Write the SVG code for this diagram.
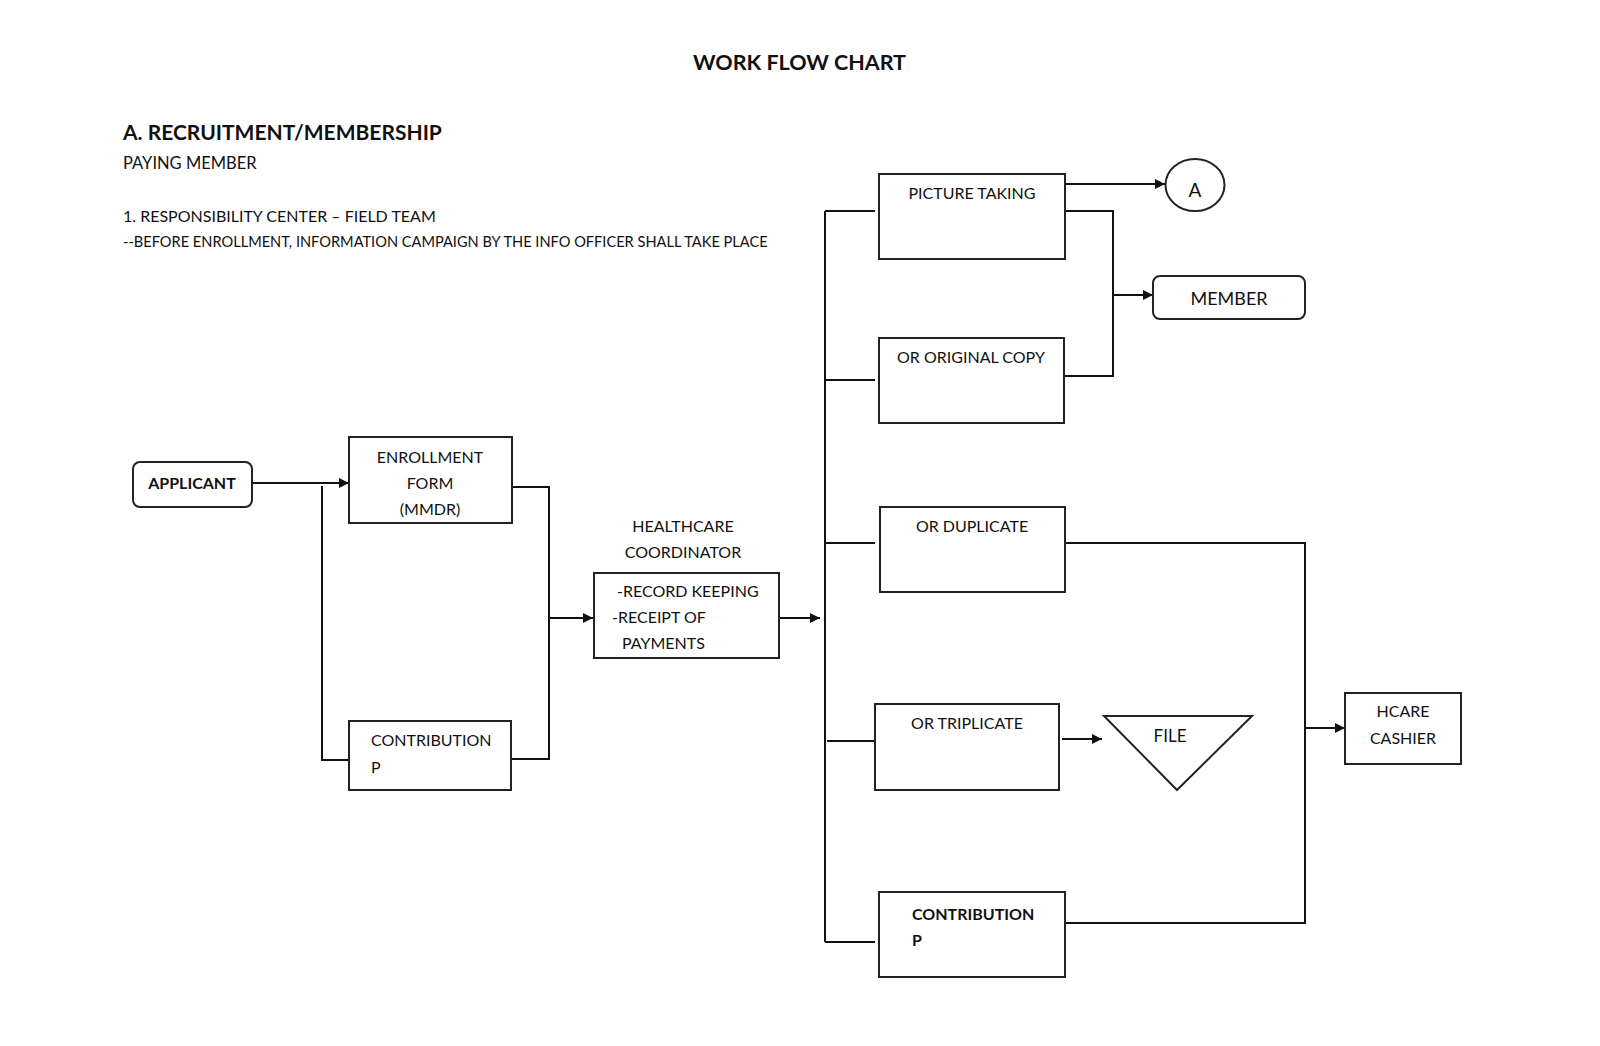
<svg xmlns="http://www.w3.org/2000/svg" width="1600" height="1046" viewBox="0 0 1600 1046">
<style>
text{font-family:Lato,"Open Sans","Liberation Sans",sans-serif;fill:#111;font-size:16px}
.b{font-weight:bold}
.c{text-anchor:middle}
.t1{font-size:21.5px}
.t2{font-size:21px}
.t3{font-size:16.5px}
.t4{font-size:14.6px}
.t5{font-size:18px}
.t6{font-size:19px}
.t7{font-size:17px}
.box{fill:#fff;stroke:#222;stroke-width:2}
.ln{fill:none;stroke:#111;stroke-width:2}
.ar{fill:none;stroke:#111;stroke-width:2;marker-end:url(#ah)}
</style>
<defs>
<marker id="ah" viewBox="0 0 10 10" refX="10" refY="5" markerWidth="10" markerHeight="10" markerUnits="userSpaceOnUse" orient="auto">
<path d="M0,0 L10,5 L0,10 z" fill="#111"/>
</marker>
</defs>
<rect width="1600" height="1046" fill="#fff"/>
<g id="headings">
<text class="b t1" x="693" y="70">WORK FLOW CHART</text>
<text class="b t2" x="123" y="140">A. RECRUITMENT/MEMBERSHIP</text>
<text class="t3" x="123" y="169">PAYING MEMBER</text>
<text x="123" y="222">1. RESPONSIBILITY CENTER – FIELD TEAM</text>
<text class="t4" x="123" y="247">--BEFORE ENROLLMENT, INFORMATION CAMPAIGN BY THE INFO OFFICER SHALL TAKE PLACE</text>
</g>
<g id="connectors">
<line class="ar" x1="252" y1="483" x2="349" y2="483"/>
<polyline class="ln" points="322,486 322,760 349,760"/>
<polyline class="ln" points="512,487 549,487 549,759 511,759"/>
<line class="ar" x1="549" y1="618" x2="593" y2="618"/>
<line class="ar" x1="779" y1="618" x2="820" y2="618"/>
<line class="ln" x1="825" y1="211" x2="825" y2="942"/>
<line class="ln" x1="825" y1="211" x2="875" y2="211"/>
<line class="ln" x1="825" y1="380" x2="875" y2="380"/>
<line class="ln" x1="825" y1="543" x2="875" y2="543"/>
<line class="ln" x1="827" y1="741" x2="877" y2="741"/>
<line class="ln" x1="825" y1="942" x2="875" y2="942"/>
<line class="ar" x1="1065" y1="184" x2="1165" y2="184"/>
<polyline class="ln" points="1065,211 1113,211 1113,376 1064,376"/>
<line class="ar" x1="1113" y1="295" x2="1153" y2="295"/>
<polyline class="ln" points="1065,543 1305,543 1305,923 1065,923"/>
<line class="ar" x1="1305" y1="728" x2="1345" y2="728"/>
<line class="ar" x1="1062" y1="739" x2="1102" y2="739"/>
</g>
<g id="applicant">
<rect class="box" x="133" y="462" width="119" height="45" rx="7"/>
<text class="b c" x="192" y="489">APPLICANT</text>
</g>
<g id="enrollment">
<rect class="box" x="349" y="437" width="163" height="86"/>
<text class="c" x="430" y="463">ENROLLMENT</text>
<text class="c" x="430" y="489">FORM</text>
<text class="c" x="430" y="515">(MMDR)</text>
</g>
<g id="contribution-left">
<rect class="box" x="349" y="721" width="162" height="69"/>
<text x="371" y="746">CONTRIBUTION</text>
<text x="371" y="773">P</text>
</g>
<g id="healthcare">
<text class="c" x="683" y="532">HEALTHCARE</text>
<text class="c" x="683" y="558">COORDINATOR</text>
<rect class="box" x="594" y="573" width="185" height="85"/>
<text x="617" y="597">-RECORD KEEPING</text>
<text x="612" y="623">-RECEIPT OF</text>
<text x="622" y="649">PAYMENTS</text>
</g>
<g id="picture">
<rect class="box" x="879" y="174" width="186" height="85"/>
<text class="c" x="972" y="199">PICTURE TAKING</text>
</g>
<g id="connector-a">
<ellipse class="box" cx="1195" cy="185" rx="29.5" ry="26"/>
<text class="c t6" x="1195" y="197">A</text>
</g>
<g id="member">
<rect class="box" x="1153" y="276" width="152" height="43" rx="7"/>
<text class="c t5" x="1229" y="305">MEMBER</text>
</g>
<g id="original">
<rect class="box" x="879" y="338" width="185" height="85"/>
<text class="c" x="971" y="363">OR ORIGINAL COPY</text>
</g>
<g id="duplicate">
<rect class="box" x="880" y="507" width="185" height="85"/>
<text class="c" x="972" y="532">OR DUPLICATE</text>
</g>
<g id="triplicate">
<rect class="box" x="875" y="704" width="184" height="86"/>
<text class="c" x="967" y="729">OR TRIPLICATE</text>
</g>
<g id="file">
<polygon class="box" points="1104,716 1252,716 1177,790"/>
<text class="c t7" x="1170" y="742">FILE</text>
</g>
<g id="contribution-right">
<rect class="box" x="879" y="892" width="186" height="85"/>
<text class="b" x="912" y="920">CONTRIBUTION</text>
<text class="b" x="912" y="946">P</text>
</g>
<g id="cashier">
<rect class="box" x="1345" y="693" width="116" height="71"/>
<text class="c" x="1403" y="717">HCARE</text>
<text class="c" x="1403" y="744">CASHIER</text>
</g>
</svg>
